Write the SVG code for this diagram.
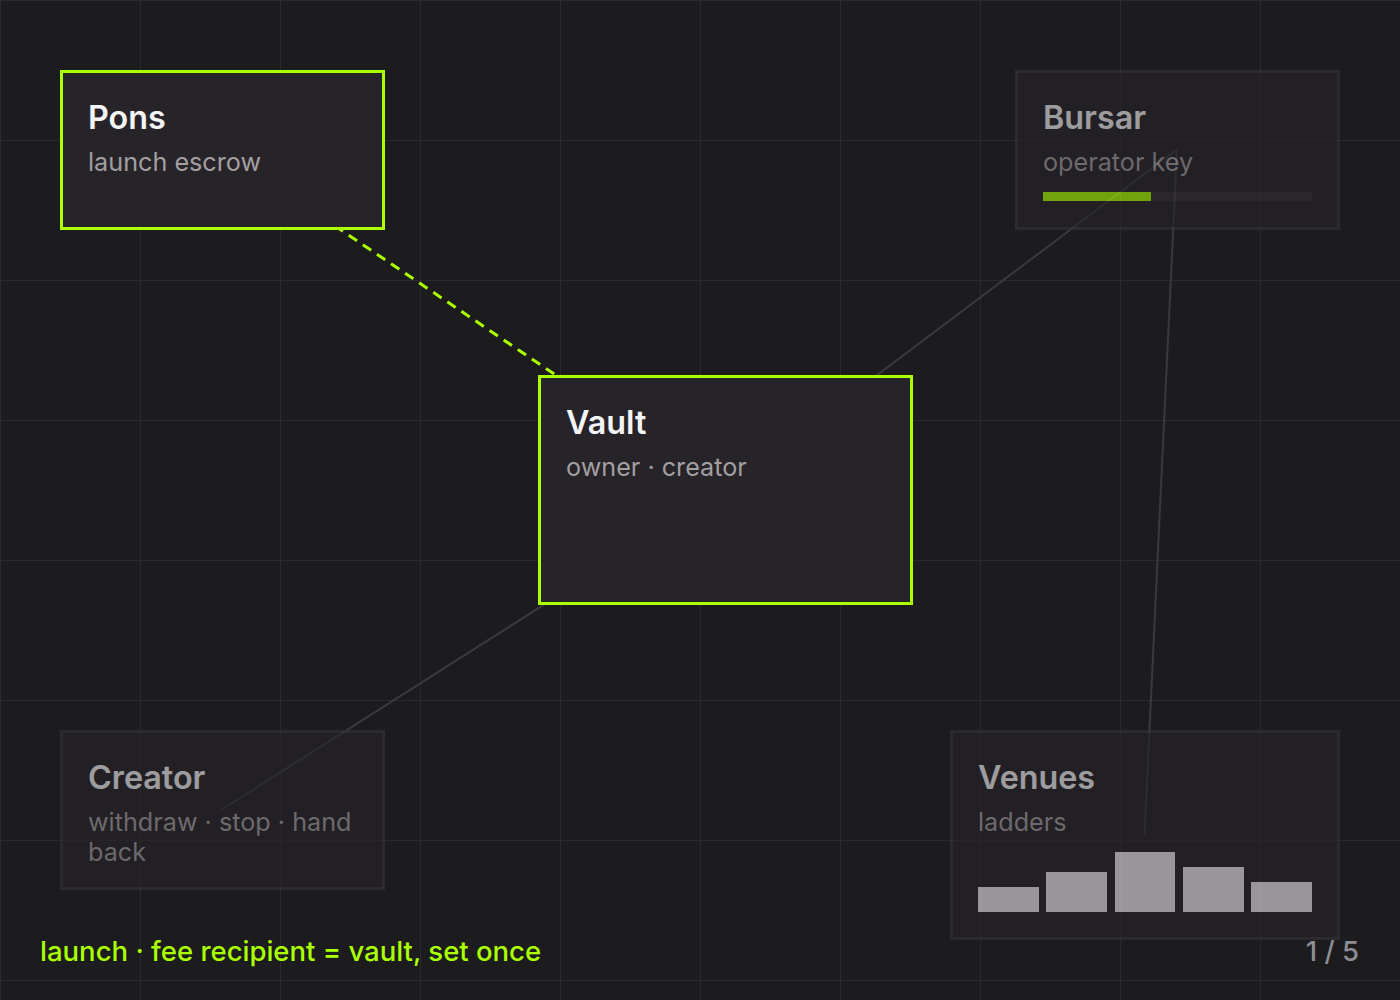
<svg xmlns="http://www.w3.org/2000/svg" width="1400" height="1000" viewBox="0 0 1400 1000">
  <defs>
    <pattern id="grid" width="140" height="140" patternUnits="userSpaceOnUse">
      <path d="M0 0.5H140M0.5 0V140" fill="none" stroke="#2a292d" stroke-width="1"/>
    </pattern>
  </defs>
  <style>
    .box { fill: #262428; stroke-width: 3; }
    .on { stroke: #aaff00; }
    .off { stroke: #37353b; }
    .title { font-family: Inter, "Noto Sans", sans-serif; font-size: 32.3px; font-weight: 600; fill: #f4f3f6; }
    .sub { font-family: Inter, "Noto Sans", sans-serif; font-size: 25.2px; font-weight: 400; fill: #a39ea2; }
    .faded { opacity: 0.6; }
    .bar { fill: #ece7e9; }
    .edge { fill: none; stroke: #3a393d; stroke-width: 2; }
    .edge-on { fill: none; stroke: #aaff00; stroke-width: 3; stroke-dasharray: 10 7; }
    .foot { font-family: Inter, "Noto Sans", sans-serif; font-size: 27.5px; font-weight: 500; }
  </style>
  <rect width="1400" height="1000" fill="#1c1b1e"/>
  <rect width="1400" height="1000" fill="url(#grid)"/>

  <g id="connectors">
    <line class="edge" x1="725" y1="489.5" x2="1177" y2="149.5"/>
    <line class="edge" x1="1144.5" y1="834.5" x2="1177" y2="149.5"/>
    <line class="edge" x1="222" y1="809.5" x2="725" y2="489.5"/>
    <line class="edge-on" x1="222" y1="149.5" x2="725" y2="489.5"/>
  </g>

  <g id="pons">
    <rect class="box on" x="61.5" y="71.5" width="322" height="157"/>
    <text class="title" x="88" y="129">Pons</text>
    <text class="sub" x="88" y="171">launch escrow</text>
  </g>

  <g id="bursar" class="faded">
    <rect class="box off" x="1016.5" y="71.5" width="322" height="157"/>
    <text class="title" x="1043" y="129">Bursar</text>
    <text class="sub" x="1043" y="171">operator key</text>
    <rect x="1043" y="192" width="269" height="9" fill="#322f35"/>
    <rect x="1043" y="192" width="108" height="9" fill="#aaff00"/>
  </g>

  <g id="vault">
    <rect class="box on" x="539.5" y="376.5" width="372" height="227"/>
    <text class="title" x="566" y="434">Vault</text>
    <text class="sub" x="566" y="476">owner · creator</text>
  </g>

  <g id="creator" class="faded">
    <rect class="box off" x="61.5" y="731.5" width="322" height="157"/>
    <text class="title" x="88" y="789">Creator</text>
    <text class="sub" x="88" y="831">withdraw · stop · hand</text>
    <text class="sub" x="88" y="861">back</text>
  </g>

  <g id="venues" class="faded">
    <rect class="box off" x="951.5" y="731.5" width="387" height="207"/>
    <text class="title" x="978" y="789">Venues</text>
    <text class="sub" x="978" y="831">ladders</text>
    <rect class="bar" x="978" y="887" width="61" height="25"/>
    <rect class="bar" x="1046" y="872" width="61" height="40"/>
    <rect class="bar" x="1115" y="852" width="60" height="60"/>
    <rect class="bar" x="1183" y="867" width="61" height="45"/>
    <rect class="bar" x="1251" y="882" width="61" height="30"/>
  </g>

  <text class="foot" x="40" y="961" fill="#aaff00">launch · fee recipient = vault, set once</text>
  <text class="foot" x="1359" y="961" fill="#8e8c94" font-weight="400" text-anchor="end">1 / 5</text>
</svg>
